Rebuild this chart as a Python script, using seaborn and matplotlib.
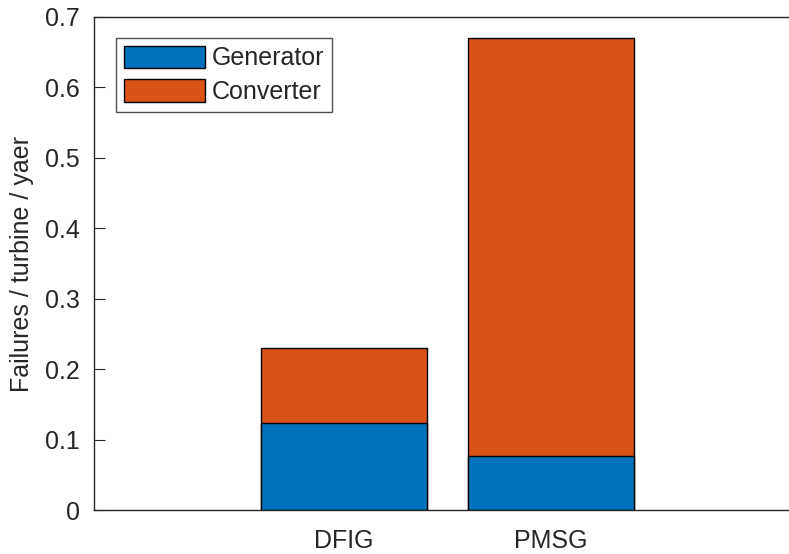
import matplotlib
matplotlib.use("Agg")
import matplotlib.pyplot as plt
import seaborn as sns
import pandas as pd
from matplotlib.patches import Patch

categories = ["DFIG", "PMSG"]
generator = [0.1235, 0.0767]
converter = [0.1065, 0.5933]
series_names = ["Generator", "Converter"]
yticks = [0, 0.1, 0.2, 0.3, 0.4, 0.5, 0.6, 0.7]

totals = [g + c for g, c in zip(generator, converter)]
df = pd.DataFrame({"cat": categories, "gen": generator, "total": totals})

sns.set_style("white")
plt.rcParams["font.family"] = ["Liberation Sans", "DejaVu Sans"]

blue = "#0072BD"
orange = "#D95319"
fs = 18

fig = plt.figure(figsize=(7.89, 5.54), dpi=100)
ax = fig.add_axes([94/789, 1 - 510/554, 1 - 94/789 + 0.002, (510-17)/554])

sns.barplot(data=df, x="cat", y="total", color=orange, saturation=1, width=0.8,
            edgecolor="black", linewidth=1, ax=ax)
sns.barplot(data=df, x="cat", y="gen", color=blue, saturation=1, width=0.8,
            edgecolor="black", linewidth=1, ax=ax)

ax.set_xlim(-1.203, 2.155)
ax.set_ylim(0, 0.7)
ax.set_yticks(yticks)
ax.set_yticklabels([("0" if v == 0 else f"{v:.1f}") for v in yticks])
ax.set_xlabel("")
ax.set_ylabel("Failures / turbine / yaer", fontsize=fs, color="#262626", labelpad=8)
ax.tick_params(axis="both", direction="in", length=8, width=0.8, labelsize=fs,
               colors="#262626", left=True, bottom=True)
ax.tick_params(axis="x", pad=14)
ax.tick_params(axis="y", pad=10)
for s in ["left", "bottom", "top"]:
    ax.spines[s].set_color("#262626")
    ax.spines[s].set_linewidth(1)
ax.spines["right"].set_visible(False)

handles = [Patch(facecolor=blue, edgecolor="black", linewidth=1),
           Patch(facecolor=orange, edgecolor="black", linewidth=1)]
leg = ax.legend(handles, series_names, loc="upper left", bbox_to_anchor=(0.032, 0.957),
                fontsize=fs, frameon=True, fancybox=False, handlelength=3.25,
                handleheight=1.0, handletextpad=0.28, borderpad=0.3, labelspacing=0.36,
                borderaxespad=0)
leg.get_frame().set_edgecolor("#262626")
leg.get_frame().set_linewidth(1)

fig.savefig("out.png", dpi=100)
